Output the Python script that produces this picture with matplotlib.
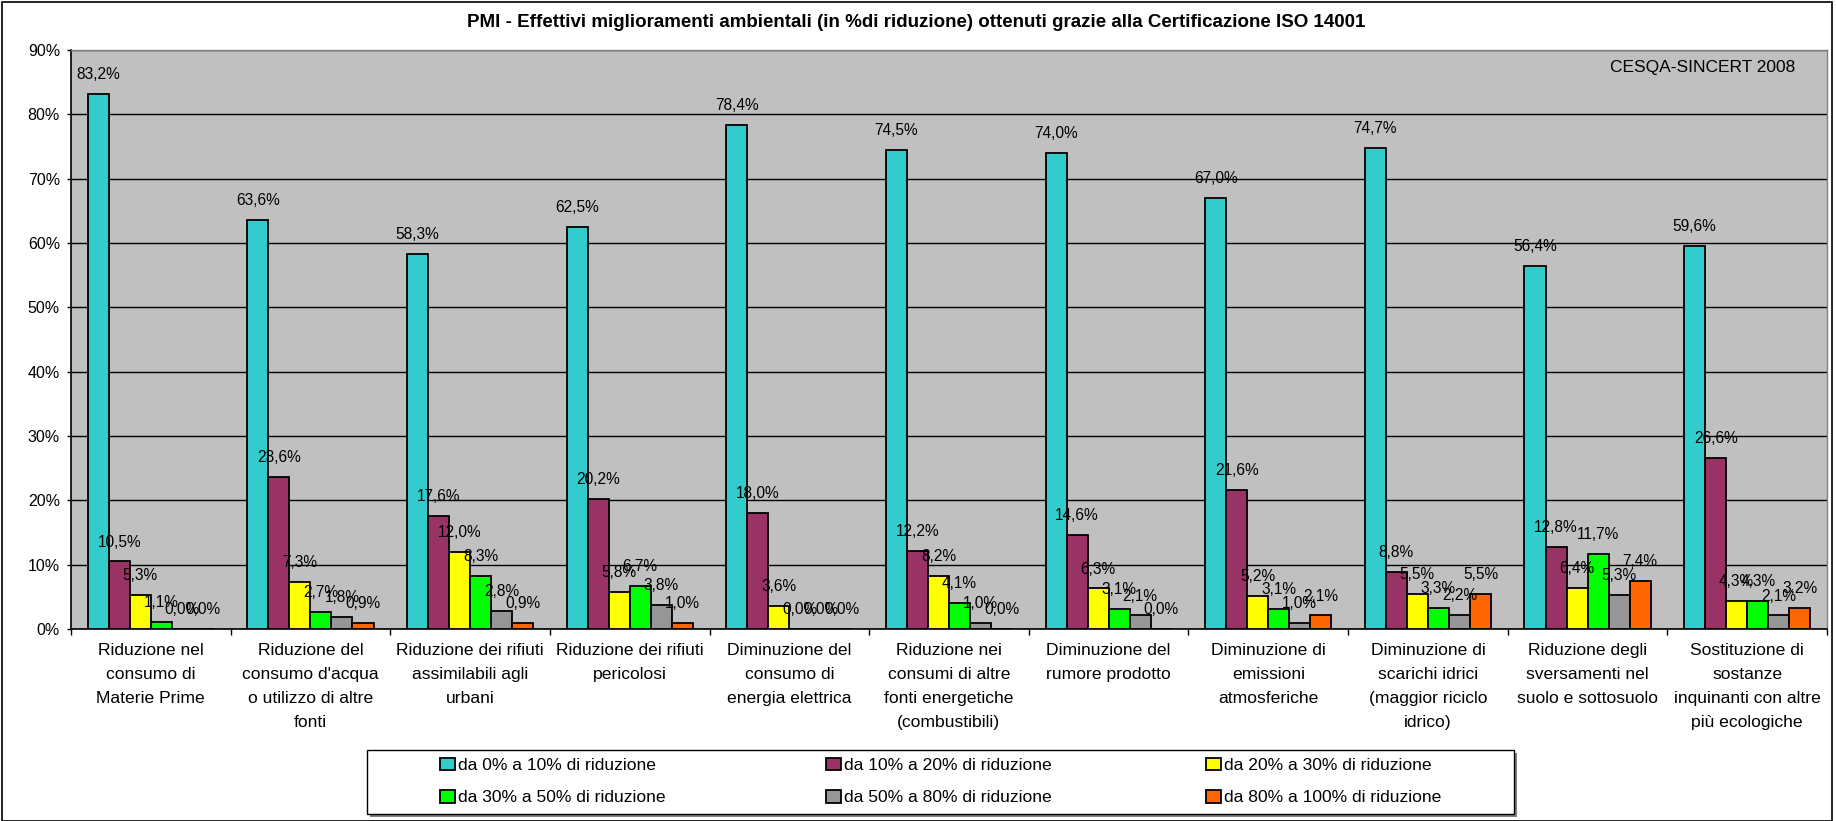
import matplotlib.pyplot as plt
import numpy as np
from matplotlib.patches import Rectangle

plt.rcParams['font.family'] = ['Liberation Sans', 'DejaVu Sans']

categories = [
    "Riduzione nel\nconsumo di\nMaterie Prime",
    "Riduzione del\nconsumo d'acqua\no utilizzo di altre\nfonti",
    "Riduzione dei rifiuti\nassimilabili agli\nurbani",
    "Riduzione dei rifiuti\npericolosi",
    "Diminuzione del\nconsumo di\nenergia elettrica",
    "Riduzione nei\nconsumi di altre\nfonti energetiche\n(combustibili)",
    "Diminuzione del\nrumore prodotto",
    "Diminuzione di\nemissioni\natmosferiche",
    "Diminuzione di\nscarichi idrici\n(maggior riciclo\nidrico)",
    "Riduzione degli\nsversamenti nel\nsuolo e sottosuolo",
    "Sostituzione di\nsostanze\ninquinanti con altre\npiù ecologiche",
]

series_names = [
    "da 0% a 10% di riduzione",
    "da 10% a 20% di riduzione",
    "da 20% a 30% di riduzione",
    "da 30% a 50% di riduzione",
    "da 50% a 80% di riduzione",
    "da 80% a 100% di riduzione",
]

s_0_10 = [83.2, 63.6, 58.3, 62.5, 78.4, 74.5, 74.0, 67.0, 74.7, 56.4, 59.6]
s_10_20 = [10.5, 23.6, 17.6, 20.2, 18.0, 12.2, 14.6, 21.6, 8.8, 12.8, 26.6]
s_20_30 = [5.3, 7.3, 12.0, 5.8, 3.6, 8.2, 6.3, 5.2, 5.5, 6.4, 4.3]
s_30_50 = [1.1, 2.7, 8.3, 6.7, 0.0, 4.1, 3.1, 3.1, 3.3, 11.7, 4.3]
s_50_80 = [0.0, 1.8, 2.8, 3.8, 0.0, 1.0, 2.1, 1.0, 2.2, 5.3, 2.1]
s_80_100 = [0.0, 0.9, 0.9, 1.0, 0.0, 0.0, 0.0, 2.1, 5.5, 7.4, 3.2]

series = [s_0_10, s_10_20, s_20_30, s_30_50, s_50_80, s_80_100]
colors = ['#33CCCC', '#993366', '#FFFF00', '#00FF00', '#969696', '#FF6600']

W, H = 1836, 821
fig = plt.figure(figsize=(W / 100, H / 100), dpi=100)
ax = fig.add_axes([71 / W, 1 - 629 / H, (1827 - 71) / W, (629 - 50) / H])
ax.set_facecolor('#C0C0C0')

x = np.arange(len(categories))
bw = 0.79 / 6
handles = []
for i, (vals, col) in enumerate(zip(series, colors)):
    pos = x - 0.395 + bw * (i + 0.5)
    b = ax.bar(pos, vals, bw, color=col, edgecolor='black', linewidth=1.3, zorder=3)
    handles.append(b)
    for px, v in zip(pos, vals):
        ax.annotate(f"{v:.1f}%".replace('.', ','), (px, v), xytext=(0, 14),
                    textcoords='offset points', ha='center', va='center',
                    fontsize=11.2, zorder=4)

ax.set_xlim(-0.5, len(categories) - 0.5)
ax.set_ylim(0, 90)
ax.set_yticks(np.arange(0, 91, 10))
ax.set_yticklabels([f"{t}%" for t in range(0, 91, 10)], fontsize=11.5)
ax.yaxis.grid(True, color='black', linewidth=1.0, zorder=0)
ax.set_axisbelow(True)

ax.set_xticks(x)
ax.set_xticklabels(categories, fontsize=12.6, linespacing=1.75)
ax.tick_params(axis='x', which='major', length=0, pad=10)
ax.set_xticks(np.arange(-0.5, len(categories) + 0.5, 1), minor=True)
ax.tick_params(axis='x', which='minor', length=4, width=1, direction='out')
ax.tick_params(axis='y', length=3, width=1, direction='out', pad=5)

for side in ['left', 'bottom']:
    ax.spines[side].set_color('black')
    ax.spines[side].set_linewidth(1.2)
for side in ['top', 'right']:
    ax.spines[side].set_color('#808080')
    ax.spines[side].set_linewidth(1.0)

ax.text(0.9818, 0.9706, "CESQA-SINCERT 2008", transform=ax.transAxes,
        ha='right', va='center', fontsize=12.5)

fig.text(0.499, 0.972, "PMI - Effettivi miglioramenti ambientali (in %di riduzione) "
         "ottenuti grazie alla Certificazione ISO 14001",
         ha='center', va='center', fontsize=13.5, fontweight='bold')

# legend box with shadow, entries laid out row by row as in the original
fig.patches.append(Rectangle((370 / W, 4 / H), 1147 / W, 64 / H, transform=fig.transFigure,
                             facecolor='#808080', edgecolor='none', zorder=1))
fig.patches.append(Rectangle((367 / W, 7 / H), 1147 / W, 64 / H, transform=fig.transFigure,
                             facecolor='white', edgecolor='black', linewidth=1.0, zorder=2))

col_x = [440, 826, 1206]
for c in range(3):
    leg = fig.legend([handles[c], handles[c + 3]], [series_names[c], series_names[c + 3]],
                     loc='center left', bbox_to_anchor=(col_x[c] / W, 1 - 781.5 / H),
                     fontsize=12.6, frameon=False, borderpad=0, borderaxespad=0,
                     handlelength=0.85, handleheight=0.75, handletextpad=0.15,
                     labelspacing=0.95)
    leg.set_zorder(5)

fig.patches.append(Rectangle((0.001, 0.0), 0.997, 0.997, transform=fig.transFigure,
                             fill=False, edgecolor='black', linewidth=1.2))

plt.savefig('out.png', dpi=100)
